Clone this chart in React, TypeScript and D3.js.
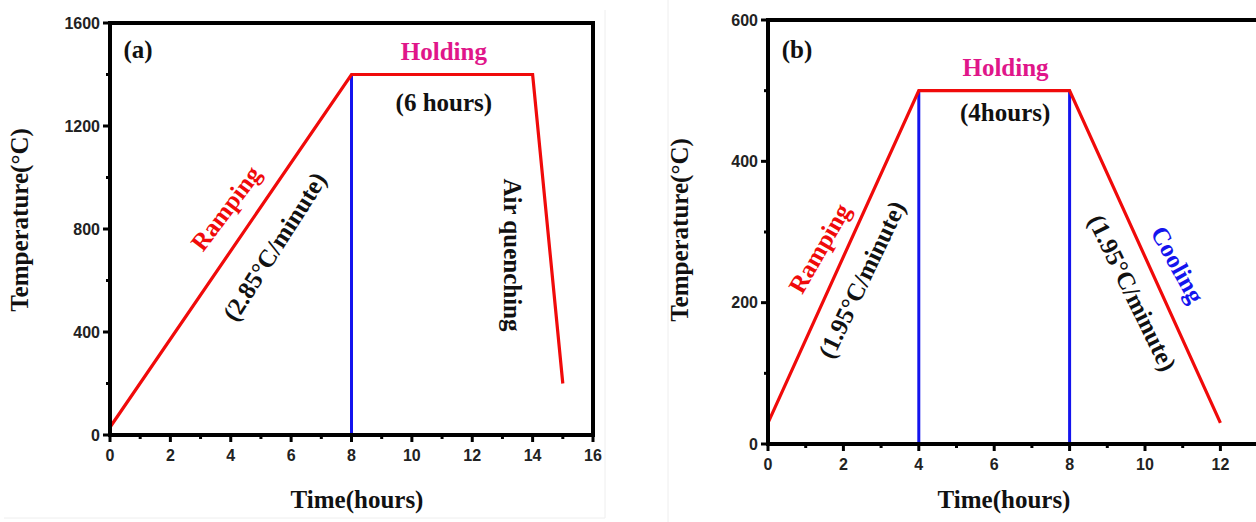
import React from "react";
import * as d3 from "d3";

// panel (a): heat treatment with air quenching
const timeA = [0, 8, 14, 15];
const tempA = [30, 1400, 1400, 200];
const holdA = [8];
const xTicksA = [0, 2, 4, 6, 8, 10, 12, 14, 16];
const xMinorA = [1, 3, 5, 7, 9, 11, 13, 15];
const yTicksA = [0, 400, 800, 1200, 1600];
const yMinorA = [200, 600, 1000, 1400];

// panel (b): ramp, hold, cool
const timeB = [0, 4, 8, 12];
const tempB = [30, 500, 500, 30];
const holdB = [4, 8];
const xTicksB = [0, 2, 4, 6, 8, 10, 12];
const xMinorB = [1, 3, 5, 7, 9, 11, 13];
const yTicksB = [0, 200, 400, 600];
const yMinorB = [100, 300, 500];

const RED = "#f00a0a";
const BLUE = "#1414ee";
const MAGENTA = "#e0168a";
const SERIF = "'Liberation Serif', 'Times New Roman', serif";
const SANS = "'Liberation Sans', Arial, sans-serif";

type Note = { text: string; h: number; t: number; rot?: number; color: string; mid?: boolean };

const notesA: Note[] = [
  { text: "(a)", h: 0.93, t: 1464, color: "#111" },
  { text: "Holding", h: 11.06, t: 1456, color: MAGENTA },
  { text: "(6 hours)", h: 11.06, t: 1258, color: "#111" },
  { text: "Ramping", h: 3.91, t: 874, rot: -53, color: RED, mid: true },
  { text: "(2.85°C/minute)", h: 5.53, t: 726, rot: -57.5, color: "#111", mid: true },
  { text: "Air quenching", h: 13.25, t: 699, rot: 90, color: "#111", mid: true },
];

const notesB: Note[] = [
  { text: "(b)", h: 0.77, t: 546, color: "#111" },
  { text: "Holding", h: 6.3, t: 521, color: MAGENTA },
  { text: "(4hours)", h: 6.29, t: 457, color: "#111" },
  { text: "Ramping", h: 1.43, t: 275, rot: -60, color: RED, mid: true },
  { text: "(1.95°C/minute)", h: 2.55, t: 231, rot: -64.5, color: "#111", mid: true },
  { text: "(1.95°C/minute)", h: 9.6, t: 212, rot: 64, color: "#111", mid: true },
  { text: "Cooling", h: 10.8, t: 252, rot: 61, color: BLUE, mid: true },
];

type PanelProps = {
  left: number; right: number; top: number; bottom: number;
  xMax: number; yMax: number;
  time: number[]; temp: number[]; hold: number[];
  xTicks: number[]; xMinor: number[]; yTicks: number[]; yMinor: number[];
  notes: Note[];
  yTitleX: number; yTitleY: number; xTitleX: number;
};

function Panel(p: PanelProps) {
  const x = d3.scaleLinear().domain([0, p.xMax]).range([p.left, p.right]);
  const y = d3.scaleLinear().domain([0, p.yMax]).range([p.bottom, p.top]);
  const line = d3.line<number>().x((_, i) => x(p.time[i])).y((d) => y(d));
  const tempAt = (h: number) => p.temp[p.time.indexOf(h)];

  return (
    <g>
      {/* hold markers */}
      {p.hold.map((h) => (
        <line key={"h" + h} x1={x(h)} x2={x(h)} y1={y(0)} y2={y(tempAt(h))} stroke={BLUE} strokeWidth={3} />
      ))}
      <path d={line(p.temp) || ""} fill="none" stroke={RED} strokeWidth={3.2} strokeLinejoin="miter" />

      {/* frame */}
      <rect x={p.left} y={p.top} width={p.right - p.left} height={p.bottom - p.top} fill="none" stroke="#000" strokeWidth={4} />

      {/* x ticks */}
      {p.xTicks.map((t) => (
        <g key={"xt" + t}>
          <line x1={x(t)} x2={x(t)} y1={p.bottom} y2={p.bottom + 7} stroke="#000" strokeWidth={3} />
          <text x={x(t)} y={p.bottom + 26} textAnchor="middle" fontFamily={SANS} fontWeight="bold" fontSize={16} fill="#222">{t}</text>
        </g>
      ))}
      {p.xMinor.map((t) => (
        <line key={"xm" + t} x1={x(t)} x2={x(t)} y1={p.bottom} y2={p.bottom + 4} stroke="#000" strokeWidth={3} />
      ))}
      {/* y ticks */}
      {p.yTicks.map((t) => (
        <g key={"yt" + t}>
          <line x1={p.left} x2={p.left - 7} y1={y(t)} y2={y(t)} stroke="#000" strokeWidth={3} />
          <text x={p.left - 10} y={y(t) + 5.5} textAnchor="end" fontFamily={SANS} fontWeight="bold" fontSize={16} fill="#222">{t}</text>
        </g>
      ))}
      {p.yMinor.map((t) => (
        <line key={"ym" + t} x1={p.left} x2={p.left - 4} y1={y(t)} y2={y(t)} stroke="#000" strokeWidth={3} />
      ))}

      {/* axis titles */}
      <text x={p.xTitleX} y={508} textAnchor="middle" fontFamily={SERIF} fontWeight="bold" fontSize={25} fill="#111">Time(hours)</text>
      <text transform={`translate(${p.yTitleX},${p.yTitleY}) rotate(-90)`} textAnchor="middle" dominantBaseline="middle" fontFamily={SERIF} fontWeight="bold" fontSize={25} fill="#111">Temperature(°C)</text>

      {/* annotations */}
      {p.notes.map((n, i) => (
        <text
          key={"n" + i}
          transform={`translate(${x(n.h)},${y(n.t)})${n.rot ? ` rotate(${n.rot})` : ""}`}
          textAnchor="middle"
          dominantBaseline={n.mid ? "middle" : "auto"}
          fontFamily={SERIF}
          fontWeight="bold"
          fontSize={25}
          fill={n.color}
        >
          {n.text}
        </text>
      ))}
    </g>
  );
}

export default function App() {
  return (
    <svg width={1256} height={522} style={{ position: "absolute", left: 0, top: 0, background: "#fff" }}>
      <rect x={0} y={0} width={1256} height={522} fill="#fff" />
      <line x1={4} x2={605} y1={518} y2={518} stroke="#eee" strokeWidth={1} />
      <line x1={605} x2={605} y1={10} y2={518} stroke="#eee" strokeWidth={1} />
      <line x1={668} x2={668} y1={0} y2={522} stroke="#eee" strokeWidth={1} />
      <Panel
        left={110} right={593} top={23} bottom={435}
        xMax={16} yMax={1600}
        time={timeA} temp={tempA} hold={holdA}
        xTicks={xTicksA} xMinor={xMinorA} yTicks={yTicksA} yMinor={yMinorA}
        notes={notesA}
        yTitleX={22} yTitleY={220} xTitleX={357}
      />
      <Panel
        left={768} right={768 + 13 * 37.7} top={20} bottom={444}
        xMax={13} yMax={600}
        time={timeB} temp={tempB} hold={holdB}
        xTicks={xTicksB} xMinor={xMinorB} yTicks={yTicksB} yMinor={yMinorB}
        notes={notesB}
        yTitleX={682} yTitleY={230} xTitleX={1004}
      />
    </svg>
  );
}
